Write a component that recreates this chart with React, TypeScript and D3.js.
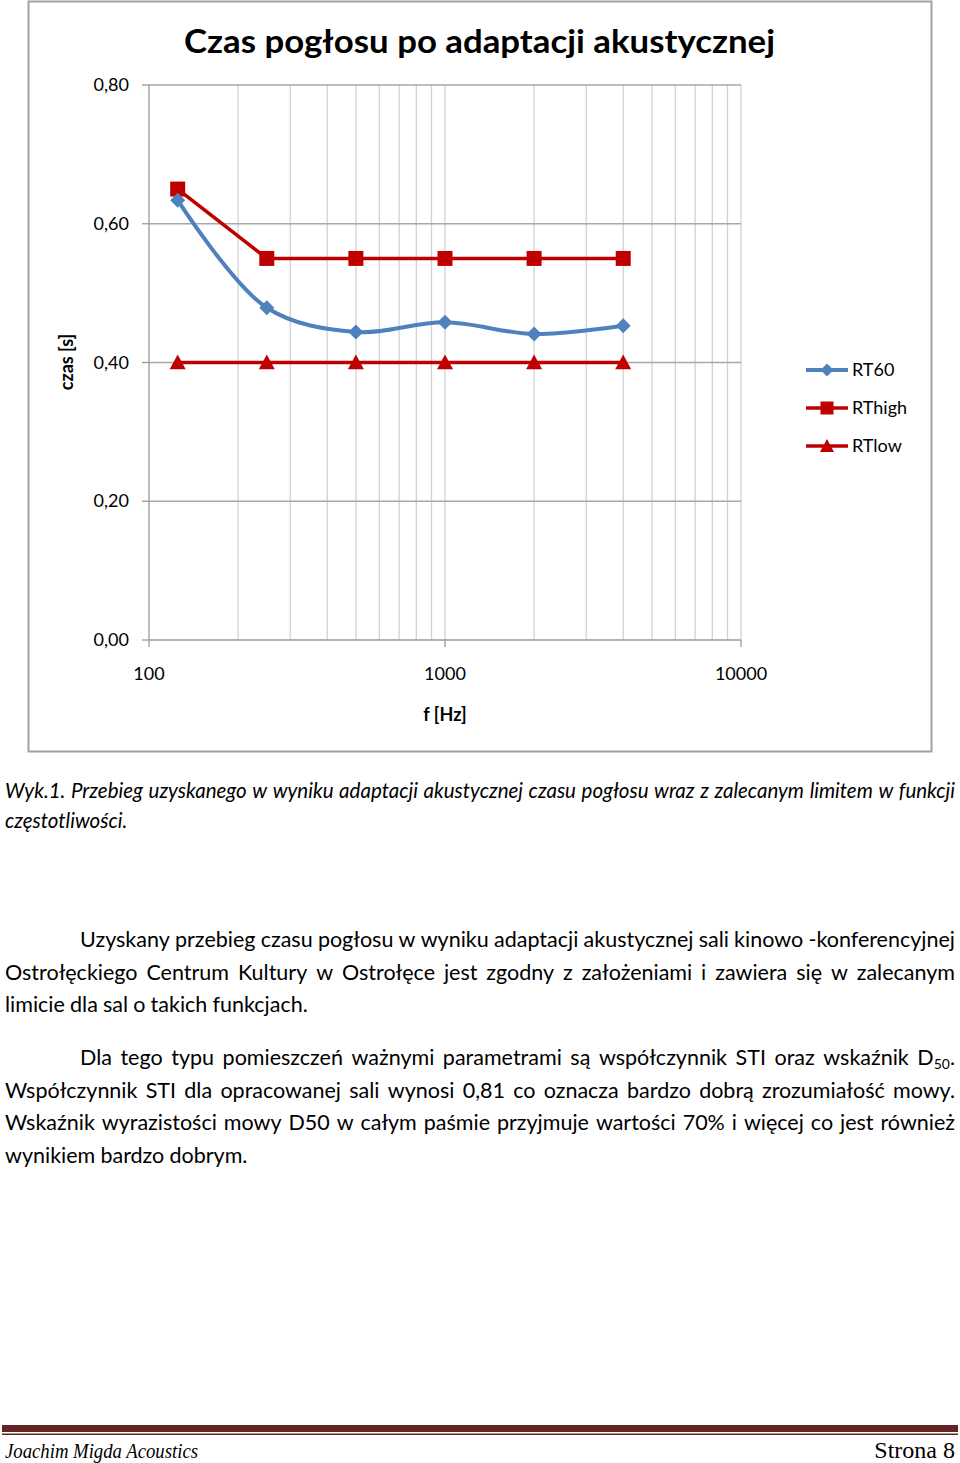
import React, { useEffect, useRef } from "react";
import * as d3 from "d3";

const freqs = [125, 250, 500, 1000, 2000, 4000];
const rt60 = [0.634, 0.479, 0.444, 0.458, 0.441, 0.453];
const rtHigh = [0.65, 0.55, 0.55, 0.55, 0.55, 0.55];
const rtLow = [0.4, 0.4, 0.4, 0.4, 0.4, 0.4];
const seriesNames = ["RT60", "RThigh", "RTlow"];
const yTicks = [0, 0.2, 0.4, 0.6, 0.8];
const xTicks = [100, 1000, 10000];
const minorFreqs = [200, 300, 400, 500, 600, 700, 800, 900, 1000, 2000, 3000, 4000, 5000, 6000, 7000, 8000, 9000];

const titleText = "Czas pogłosu po adaptacji akustycznej";
const xTitle = "f [Hz]";
const yTitle = "czas [s]";

const captionLines = [
  "Wyk.1. Przebieg uzyskanego w wyniku adaptacji akustycznej czasu pogłosu wraz z zalecanym limitem w funkcji",
  "częstotliwości.",
];
const para1Lines = [
  "Uzyskany przebieg czasu pogłosu w wyniku adaptacji akustycznej sali kinowo -konferencyjnej",
  "Ostrołęckiego Centrum Kultury w Ostrołęce jest zgodny z założeniami i zawiera się w zalecanym",
  "limicie dla sal o takich funkcjach.",
];
const para2Lines = [
  "Dla tego typu pomieszczeń ważnymi parametrami są współczynnik STI oraz wskaźnik D_50.",
  "Współczynnik STI dla opracowanej sali wynosi 0,81 co oznacza bardzo dobrą zrozumiałość mowy.",
  "Wskaźnik wyrazistości mowy D50 w całym paśmie przyjmuje wartości 70% i więcej co jest również",
  "wynikiem bardzo dobrym.",
];
const footerLeft = "Joachim Migda Acoustics";
const footerRight = "Strona 8";

const BLUE = "#4f81bd";
const RED = "#c00000";
const FONT = "Lato, 'Open Sans', sans-serif";

type Block = { lines: string[]; x0: number[]; x1: number; ys: number[]; justify: boolean[]; italic?: boolean; fs: number };

function drawBlock(g: any, b: Block) {
  const measured = b.lines.map((line) => {
    const words = line.split(" ");
    return words.map((w) => {
      const t = g.append("text").attr("font-family", FONT).attr("font-size", b.fs)
        .attr("font-style", b.italic ? "italic" : "normal").attr("fill", "#000");
      addWord(t, w, b.fs);
      const len = (t.node() as SVGTextElement).getComputedTextLength();
      return { t, w, len };
    });
  });
  let ratio = 1;
  measured.forEach((ws, i) => {
    if (!b.justify[i]) return;
    const W = ws.reduce((a, c) => a + c.len, 0);
    const minSp = 0.22 * b.fs * (ws.length - 1);
    const target = b.x1 - b.x0[i];
    if (W + minSp > target) ratio = Math.min(ratio, target / (W + minSp));
  });
  const fs = b.fs * ratio;
  measured.forEach((ws, i) => {
    const W = ws.reduce((a, c) => a + c.len * ratio, 0);
    const target = b.x1 - b.x0[i];
    const gap = b.justify[i] && ws.length > 1 ? (target - W) / (ws.length - 1) : 0.24 * fs;
    let x = b.x0[i];
    ws.forEach((c) => {
      c.t.attr("font-size", fs).attr("x", x).attr("y", b.ys[i]);
      c.t.selectAll("tspan.sub").attr("font-size", fs * 0.65);
      x += c.len * ratio + gap;
    });
  });
}

function addWord(t: any, w: string, fs: number) {
  if (w.includes("_")) {
    const [base, rest] = w.split("_");
    const sub = rest.replace(/[^0-9]/g, "");
    const tail = rest.replace(/[0-9]/g, "");
    t.append("tspan").text(base);
    t.append("tspan").attr("class", "sub").attr("font-size", fs * 0.65).attr("dy", fs * 0.18).text(sub);
    t.append("tspan").attr("dy", -fs * 0.18).text(tail);
  } else {
    t.text(w);
  }
}

export default function App() {
  const ref = useRef<SVGSVGElement>(null);
  useEffect(() => {
    const draw = () => {
      const svg = d3.select(ref.current);
      svg.selectAll("*").remove();

      const x = d3.scaleLog().domain([100, 10000]).range([149, 741]);
      const y = d3.scaleLinear().domain([0, 0.8]).range([640, 85]);

      svg.append("rect").attr("x", 28.5).attr("y", 1.5).attr("width", 903).attr("height", 750)
        .attr("fill", "#fff").attr("stroke", "#a0a0a0").attr("stroke-width", 2);

      svg.append("text").attr("x", 184).attr("y", 53).attr("font-family", FONT).attr("font-weight", "bold")
        .attr("font-size", 33).attr("textLength", 591).attr("lengthAdjust", "spacingAndGlyphs").text(titleText);

      const grid = svg.append("g");
      grid.selectAll("line.v").data(minorFreqs).join("line")
        .attr("x1", (d) => x(d)).attr("x2", (d) => x(d)).attr("y1", y(0.8)).attr("y2", y(0))
        .attr("stroke", "#d2d2d2").attr("stroke-width", 1.3);
      grid.append("line").attr("x1", x(10000)).attr("x2", x(10000)).attr("y1", y(0.8)).attr("y2", y(0))
        .attr("stroke", "#d2d2d2").attr("stroke-width", 1.3);
      grid.selectAll("line.h").data(yTicks.filter((d) => d > 0)).join("line")
        .attr("x1", x(100)).attr("x2", x(10000)).attr("y1", (d) => y(d)).attr("y2", (d) => y(d))
        .attr("stroke", "#a8a8a8").attr("stroke-width", 1.3);

      const ax = svg.append("g").attr("stroke", "#9a9a9a").attr("stroke-width", 1.3);
      ax.append("line").attr("x1", x(100)).attr("x2", x(100)).attr("y1", y(0.8)).attr("y2", y(0));
      ax.append("line").attr("x1", x(100)).attr("x2", x(10000)).attr("y1", y(0)).attr("y2", y(0));
      ax.selectAll("line.yt").data(yTicks).join("line")
        .attr("x1", x(100) - 7).attr("x2", x(100)).attr("y1", (d) => y(d)).attr("y2", (d) => y(d));
      ax.selectAll("line.xt").data(xTicks).join("line")
        .attr("x1", (d) => x(d)).attr("x2", (d) => x(d)).attr("y1", y(0)).attr("y2", y(0) + 7);

      const fmt = (v: number) => v.toFixed(2).replace(".", ",");
      svg.append("g").selectAll("text").data(yTicks).join("text")
        .attr("x", 129).attr("y", (d) => y(d) + 6).attr("text-anchor", "end")
        .attr("font-family", FONT).attr("font-size", 18).text((d) => fmt(d));
      svg.append("g").selectAll("text").data(xTicks).join("text")
        .attr("x", (d) => x(d)).attr("y", 680).attr("text-anchor", "middle")
        .attr("font-family", FONT).attr("font-size", 18).text((d) => String(d));
      svg.append("text").attr("x", 445).attr("y", 721).attr("text-anchor", "middle")
        .attr("font-family", FONT).attr("font-size", 18).attr("font-weight", "bold").text(xTitle);
      svg.append("text").attr("transform", "translate(73,362) rotate(-90)").attr("text-anchor", "middle")
        .attr("font-family", FONT).attr("font-size", 18).attr("font-weight", "bold").text(yTitle);

      const pts = (vals: number[]) => freqs.map((f, i) => [x(f), y(vals[i])] as [number, number]);
      const smooth = d3.line().curve(d3.curveCatmullRom.alpha(0.5));
      const straight = d3.line();
      svg.append("path").attr("d", straight(pts(rtLow))).attr("fill", "none").attr("stroke", RED).attr("stroke-width", 3.5);
      svg.append("path").attr("d", straight(pts(rtHigh))).attr("fill", "none").attr("stroke", RED).attr("stroke-width", 3.5);
      svg.append("path").attr("d", smooth(pts(rt60))).attr("fill", "none").attr("stroke", BLUE).attr("stroke-width", 4)
        .attr("stroke-linejoin", "round");

      const diamond = (r: number) => `M0,${-r}L${r},0L0,${r}L${-r},0Z`;
      const square = (r: number) => `M${-r},${-r}H${r}V${r}H${-r}Z`;
      const tri = (r: number) => `M0,${-r}L${r},${r * 0.85}L${-r},${r * 0.85}Z`;

      const mk = (vals: number[], shape: string, color: string) =>
        svg.append("g").selectAll("path").data(pts(vals)).join("path")
          .attr("transform", (d) => `translate(${d[0]},${d[1]})`).attr("d", shape).attr("fill", color);
      mk(rtLow, tri(8), RED);
      mk(rtHigh, square(7.5), RED);
      mk(rt60, diamond(7.5), BLUE);

      const legY = [370, 408, 446];
      const legShapes = [diamond(6.5), square(6.5), tri(7)];
      const legColors = [BLUE, RED, RED];
      seriesNames.forEach((n, i) => {
        const lg = svg.append("g").attr("transform", `translate(0,${legY[i]})`);
        lg.append("line").attr("x1", 806).attr("x2", 848).attr("stroke", legColors[i]).attr("stroke-width", i === 0 ? 4 : 3.5);
        lg.append("path").attr("transform", "translate(827,0)").attr("d", legShapes[i]).attr("fill", legColors[i]);
        lg.append("text").attr("x", 852).attr("y", 6).attr("font-family", FONT).attr("font-size", 18).text(n);
      });

      const tg = svg.append("g");
      drawBlock(tg, { lines: captionLines, x0: [5, 5], x1: 955, ys: [798, 828], justify: [true, false], italic: true, fs: 20.5 });
      drawBlock(tg, { lines: para1Lines, x0: [80, 5, 5], x1: 955, ys: [947, 980, 1012], justify: [true, true, false], fs: 21.5 });
      drawBlock(tg, { lines: para2Lines, x0: [80, 5, 5, 5], x1: 955, ys: [1065, 1098, 1130, 1163], justify: [true, true, true, false], fs: 21.5 });

      svg.append("rect").attr("x", 2).attr("y", 1425).attr("width", 956).attr("height", 7).attr("fill", "#622423");
      svg.append("rect").attr("x", 2).attr("y", 1433.5).attr("width", 956).attr("height", 1.5).attr("fill", "#622423");
      svg.append("text").attr("x", 5).attr("y", 1458).attr("font-family", "'Liberation Serif', 'DejaVu Serif', serif")
        .attr("font-style", "italic").attr("font-size", 21).attr("textLength", 193).attr("lengthAdjust", "spacingAndGlyphs").text(footerLeft);
      svg.append("text").attr("x", 955).attr("y", 1458).attr("text-anchor", "end").attr("font-family", "'Liberation Serif', 'DejaVu Serif', serif")
        .attr("font-size", 24).text(footerRight);
    };
    draw();
    if ((document as any).fonts?.ready) (document as any).fonts.ready.then(draw);
  }, []);
  return <svg ref={ref} width={960} height={1463} style={{ position: "absolute", left: 0, top: 0, background: "#fff" }} />;
}
